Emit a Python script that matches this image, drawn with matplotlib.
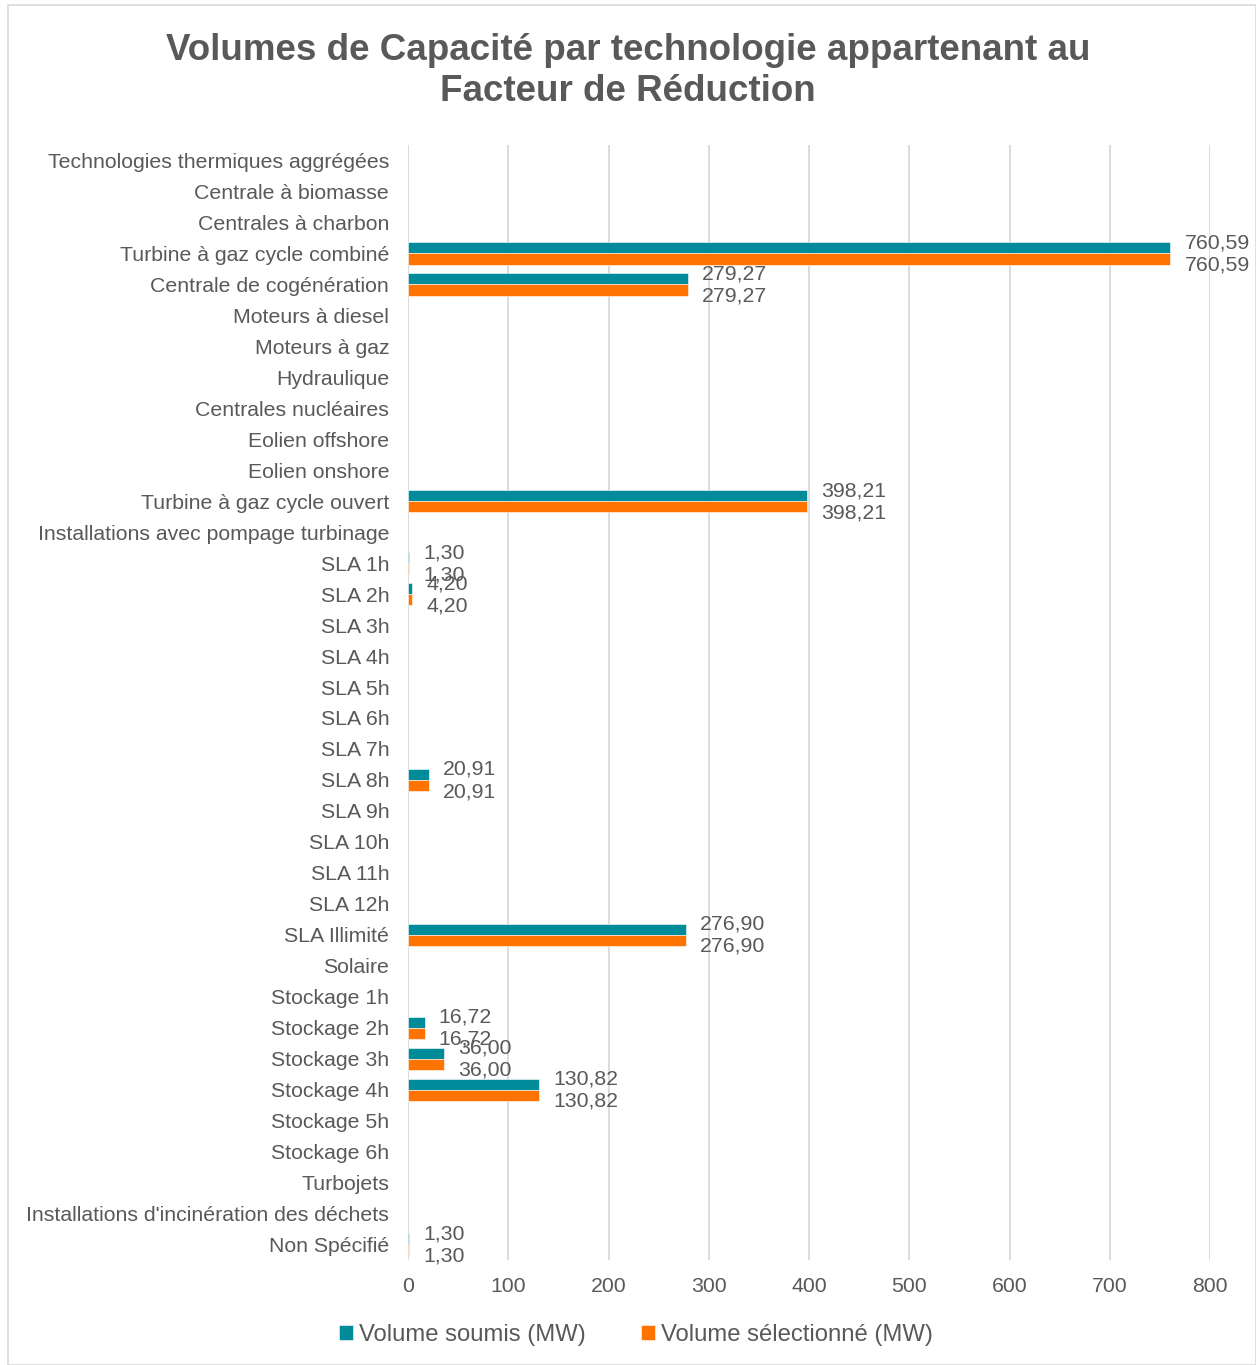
import matplotlib
matplotlib.use("Agg")
import matplotlib.pyplot as plt
from matplotlib.patches import Rectangle
import numpy as np

categories = [
    "Technologies thermiques aggrégées", "Centrale à biomasse", "Centrales à charbon",
    "Turbine à gaz cycle combiné", "Centrale de cogénération", "Moteurs à diesel",
    "Moteurs à gaz", "Hydraulique", "Centrales nucléaires", "Eolien offshore",
    "Eolien onshore", "Turbine à gaz cycle ouvert", "Installations avec pompage turbinage",
    "SLA 1h", "SLA 2h", "SLA 3h", "SLA 4h", "SLA 5h", "SLA 6h", "SLA 7h", "SLA 8h",
    "SLA 9h", "SLA 10h", "SLA 11h", "SLA 12h", "SLA Illimité", "Solaire",
    "Stockage 1h", "Stockage 2h", "Stockage 3h", "Stockage 4h", "Stockage 5h",
    "Stockage 6h", "Turbojets", "Installations d'incinération des déchets", "Non Spécifié",
]
volume_soumis = [0, 0, 0, 760.59, 279.27, 0, 0, 0, 0, 0, 0, 398.21, 0,
                 1.30, 4.20, 0, 0, 0, 0, 0, 20.91, 0, 0, 0, 0, 276.90, 0,
                 0, 16.72, 36.00, 130.82, 0, 0, 0, 0, 1.30]
volume_selectionne = [0, 0, 0, 760.59, 279.27, 0, 0, 0, 0, 0, 0, 398.21, 0,
                      1.30, 4.20, 0, 0, 0, 0, 0, 20.91, 0, 0, 0, 0, 276.90, 0,
                      0, 16.72, 36.00, 130.82, 0, 0, 0, 0, 1.30]
series_names = ["Volume soumis (MW)", "Volume sélectionné (MW)"]
xticks = [0, 100, 200, 300, 400, 500, 600, 700, 800]

plt.rcParams['font.family'] = ['Liberation Sans', 'DejaVu Sans']
TXT = '#595959'
TEAL = '#008B9A'
ORANGE = '#FF7300'
FS = 15.3

fig = plt.figure(figsize=(12.56, 13.65), dpi=100)
fig.patches.append(Rectangle((8/1256, 0.0), 1 - 8/1256, 1 - 5/1365, transform=fig.transFigure,
                             fill=False, edgecolor='#D9D9D9', linewidth=1.2))
ax = fig.add_axes([408/1256, 1 - 1260/1365, (1210 - 408)/1256, (1260 - 145)/1365])

y = np.arange(len(categories))
h = 0.36
s1 = np.array(volume_soumis)
s2 = np.array(volume_selectionne)
m1 = s1 > 0
m2 = s2 > 0
ax.barh(y[m1] - h/2, s1[m1], height=h, color=TEAL, edgecolor='white', linewidth=0.4,
        label=series_names[0], zorder=3)
ax.barh(y[m2] + h/2, s2[m2], height=h, color=ORANGE, edgecolor='white', linewidth=0.4,
        label=series_names[1], zorder=3)

def fmt(v):
    return f"{v:.2f}".replace('.', ',')

for yi, v in zip(y[m1], s1[m1]):
    ax.annotate(fmt(v), (v, yi - h/2), xytext=(14, 5), textcoords='offset pixels',
                ha='left', va='center', fontsize=FS, color=TXT)
for yi, v in zip(y[m2], s2[m2]):
    ax.annotate(fmt(v), (v, yi + h/2), xytext=(14, -6), textcoords='offset pixels',
                ha='left', va='center', fontsize=FS, color=TXT)

ax.set_xlim(0, 800)
ax.set_ylim(len(categories) - 0.5, -0.5)
ax.set_xticks(xticks)
ax.set_xticklabels([str(t) for t in xticks])
ax.set_yticks(y)
ax.set_yticklabels(categories)
ax.tick_params(axis='both', length=0, labelsize=FS, labelcolor=TXT)
ax.tick_params(axis='x', pad=12)
ax.tick_params(axis='y', pad=13.5)
ax.grid(axis='x', color='#D9D9D9', linewidth=1.3, zorder=0)
for s in ['top', 'right', 'bottom', 'left']:
    ax.spines[s].set_visible(False)
ax.set_axisbelow(True)

fig.text(0.5, 1 - 71/1365, "Volumes de Capacité par technologie appartenant au\nFacteur de Réduction",
         ha='center', va='center', fontsize=26.5, fontweight='bold', color=TXT, linespacing=1.25)

fig.legend(loc='center', bbox_to_anchor=(636/1256, 1 - 1335/1365), ncol=2, frameon=False,
           fontsize=17.2, labelcolor=TXT, handlelength=0.6, handleheight=0.6,
           handletextpad=0.25, columnspacing=2.3)

fig.savefig('out.png', dpi=100, facecolor='white')
